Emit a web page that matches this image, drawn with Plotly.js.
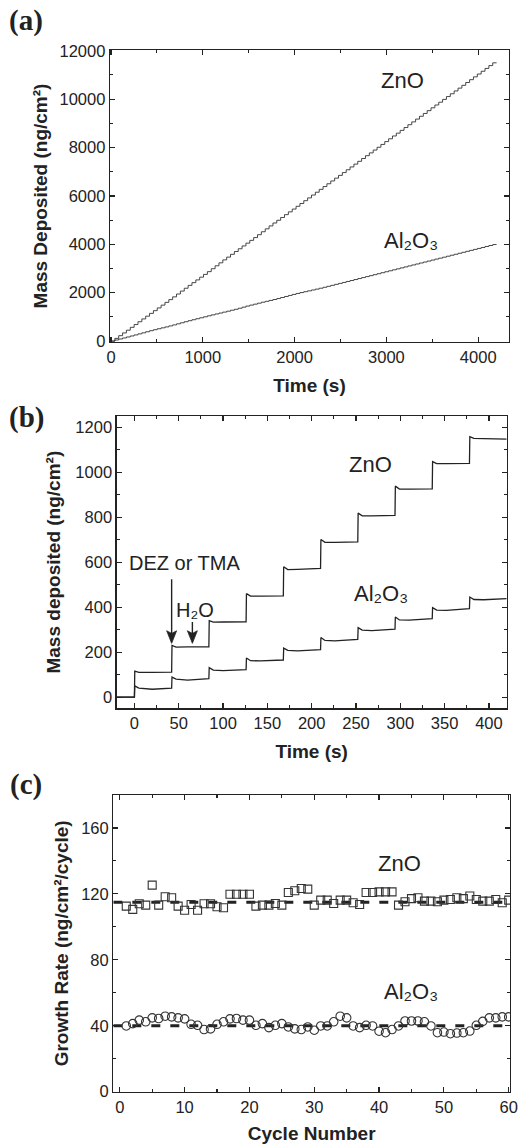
<!DOCTYPE html>
<html>
<head>
<meta charset="utf-8">
<script src="https://cdn.plot.ly/plotly-3.0.1.min.js"></script>
<style>
  html, body { margin: 0; padding: 0; background: #fff; }
  #chart { width: 520px; height: 1144px; }
</style>
</head>
<body>
<div id="chart"></div>
<script>
// (a) long run: time at each cycle boundary (s) and cumulative mass (ng/cm2)
const timeA = [0,42,84,126,168,210,252,294,336,378,420,462,504,546,588,630,672,714,756,798,840,882,924,966,1008,1050,1092,1134,1176,1218,1260,1302,1344,1386,1428,1470,1512,1554,1596,1638,1680,1722,1764,1806,1848,1890,1932,1974,2016,2058,2100,2142,2184,2226,2268,2310,2352,2394,2436,2478,2520,2562,2604,2646,2688,2730,2772,2814,2856,2898,2940,2982,3024,3066,3108,3150,3192,3234,3276,3318,3360,3402,3444,3486,3528,3570,3612,3654,3696,3738,3780,3822,3864,3906,3948,3990,4032,4074,4116,4158,4200];
const massZnOA = [0,112,224,336,450,568,684,800,916,1030,1145,1258,1370,1486,1600,1714,1828,1946,2066,2184,2302,2415,2528,2642,2756,2870,2990,3112,3234,3356,3470,3586,3702,3816,3932,4048,4163,4277,4397,4518,4639,4760,4880,4993,5108,5225,5341,5456,5571,5686,5802,5918,6035,6152,6270,6386,6502,6618,6734,6848,6964,7080,7197,7313,7429,7546,7662,7778,7895,8011,8127,8244,8360,8476,8593,8709,8825,8942,9058,9174,9291,9407,9523,9640,9756,9872,9989,10105,10221,10338,10454,10570,10687,10803,10919,11036,11152,11268,11385,11500,11500];
const massAlA = [0,45,86,128,170,212,255,298,342,386,429,470,510,548,586,627,669,713,757,800,843,883,924,963,1003,1044,1083,1121,1159,1198,1235,1275,1315,1357,1403,1448,1488,1527,1567,1607,1644,1680,1718,1758,1801,1844,1887,1929,1969,2005,2041,2076,2112,2148,2185,2224,2264,2304,2344,2384,2424,2464,2504,2544,2585,2625,2665,2705,2745,2785,2826,2866,2906,2946,2986,3026,3066,3107,3147,3187,3227,3267,3307,3348,3388,3428,3468,3508,3548,3588,3629,3669,3709,3749,3789,3829,3869,3910,3950,3990,3990];

// (b) first ten cycles, QCM trace (s, ng/cm2)
const timeB = [-20,0, 0.4,5,20,42, 42.4,47,60,84, 84.4,89,100,126, 126.4,131,142,168, 168.4,173,184,210, 210.4,215,226,252, 252.4,257,268,294, 294.4,299,310,336, 336.4,341,352,378, 378.4,383,394,420];
const massZnOB = [0,0, 116,110,110,111, 230,222,223,224, 340,333,334,335, 460,449,449,450, 580,567,568,572, 701,688,688,690, 818,806,806,808, 938,925,925,926, 1047,1038,1038,1039, 1158,1150,1149,1147];
const massAlB = [0,0, 50,40,35,40, 89,80,76,82, 131,120,118,122, 174,162,161,165, 218,208,206,211, 265,252,250,257, 309,298,296,302, 356,343,342,349, 398,387,386,393, 445,434,433,438];
// precursor / water pulse markers: pulse time (s), arrow tip and tail (ng/cm2)
const pulseTime = [42, 65.4];
const pulseTip = [239, 239];
const pulseTail = [524, 334];

// (c) growth per cycle (ng/cm2/cycle)
const cycles = [1,2,3,4,5,6,7,8,9,10,11,12,13,14,15,16,17,18,19,20,21,22,23,24,25,26,27,28,29,30,31,32,33,34,35,36,37,38,39,40,41,42,43,44,45,46,47,48,49,50,51,52,53,54,55,56,57,58,59,60];
const rateZnO = [112.6,110.6,114.0,113.2,125.3,113.2,118.3,117.7,112.6,110.1,113.6,110.1,114.0,114.0,112.2,111.6,119.8,119.8,119.8,119.8,112.6,113.2,113.2,114.2,113.2,120.8,121.9,123.3,122.9,113.2,116.2,116.2,114.2,116.2,116.2,114.6,113.6,120.8,120.8,121.2,121.2,121.2,113.2,115.2,117.1,117.7,115.6,115.6,115.2,116.2,116.6,117.7,117.1,118.7,116.6,115.6,115.6,116.6,114.6,116.2];
const rateAl = [39.9,41.3,43.4,42.4,44.8,44.4,45.8,45.4,44.8,44.2,40.9,40.3,37.7,38.1,40.9,42.4,44.2,44.4,43.4,43.4,40.3,41.3,38.9,40.3,41.3,39.3,38.1,37.7,39.3,37.3,39.9,39.9,42.4,45.8,44.8,39.9,38.9,40.3,39.9,36.7,35.8,37.7,39.9,42.9,42.9,42.9,42.4,39.9,35.8,36.2,35.2,35.6,35.8,36.8,40.3,42.7,44.8,44.8,45.4,45.4];
const meanX = [-1, 60];
const meanZnO = [115, 115];
const meanAl = [40, 40];

const ink = '#222';

const traces = [
  {x: timeA, y: massZnOA, xaxis: 'x', yaxis: 'y', mode: 'lines', line: {shape: 'hv', color: '#333', width: 0.9}},
  {x: timeA, y: massAlA, xaxis: 'x', yaxis: 'y', mode: 'lines', line: {shape: 'hv', color: '#333', width: 0.9}},
  {x: timeB, y: massZnOB, xaxis: 'x2', yaxis: 'y2', mode: 'lines', line: {color: ink, width: 1.3}},
  {x: timeB, y: massAlB, xaxis: 'x2', yaxis: 'y2', mode: 'lines', line: {color: ink, width: 1.3}},
  {x: meanX, y: meanZnO, xaxis: 'x3', yaxis: 'y3', mode: 'lines', line: {color: ink, width: 3, dash: '9px,10px'}},
  {x: meanX, y: meanAl, xaxis: 'x3', yaxis: 'y3', mode: 'lines', line: {color: ink, width: 3, dash: '9px,10px'}},
  {x: cycles, y: rateZnO, xaxis: 'x3', yaxis: 'y3', mode: 'markers',
   marker: {symbol: 'square-open', size: 8, color: '#333', line: {width: 1.1}}},
  {x: cycles, y: rateAl, xaxis: 'x3', yaxis: 'y3', mode: 'markers',
   marker: {symbol: 'circle-open', size: 8.5, color: '#333', line: {width: 1.1}}}
];

function axis(extra) {
  return Object.assign({
    showline: true, linecolor: ink, linewidth: 1.3, mirror: 'ticks',
    ticks: 'inside', ticklen: 5, tickwidth: 1.2, tickcolor: ink,
    showgrid: false, zeroline: false, tickformat: 'd',
    tickfont: {size: 16.5, color: ink}
  }, extra);
}
const minor = (d) => ({dtick: d, ticks: 'inside', ticklen: 3, tickwidth: 1.1, tickcolor: ink, showgrid: false});
const titleFont = {size: 19, weight: 'bold', color: ink};
const letterFont = {family: '"Liberation Serif", "Times New Roman", serif', size: 29, weight: 'bold', color: ink};

// vertical pulse arrows: shaft plus a notched filled head
const shapes = [];
pulseTime.forEach((t, i) => {
  shapes.push({type: 'line', xref: 'x2', yref: 'y2', x0: t, x1: t, y0: pulseTail[i], y1: pulseTip[i] + 40,
    line: {color: ink, width: 1.4}});
  shapes.push({type: 'path', xref: 'x2', yref: 'y2',
    path: `M ${t} ${pulseTip[i]} L ${t - 5.6} ${pulseTip[i] + 56} L ${t} ${pulseTip[i] + 44} L ${t + 5.6} ${pulseTip[i] + 56} Z`,
    fillcolor: ink, line: {color: ink, width: 0.8}});
});

const layout = {
  width: 520, height: 1144,
  margin: {l: 0, r: 0, t: 0, b: 0},
  paper_bgcolor: '#fff', plot_bgcolor: '#fff',
  showlegend: false,
  font: {family: '"Liberation Sans", Arial, sans-serif', color: ink, size: 16.5},
  xaxis: axis({domain: [0.2115, 0.9788], anchor: 'y', range: [-11, 4335], tick0: 0, dtick: 1000, minor: minor(500),
    title: {text: 'Time (s)', font: titleFont, standoff: 13}}),
  yaxis: axis({domain: [0.7010, 0.9563], anchor: 'x', range: [-40, 12030], tick0: 0, dtick: 2000, minor: minor(1000),
    title: {text: 'Mass Deposited (ng/cm²)', font: titleFont, standoff: 6}}),
  xaxis2: axis({domain: [0.2244, 0.9744], anchor: 'y2', range: [-20, 420], tick0: 0, dtick: 50, minor: minor(25),
    title: {text: 'Time (s)', font: titleFont, standoff: 13}}),
  yaxis2: axis({domain: [0.3808, 0.6364], anchor: 'x2', range: [-50, 1250], tick0: 0, dtick: 200, minor: minor(100),
    title: {text: 'Mass deposited (ng/cm²)', font: titleFont, standoff: 9}}),
  xaxis3: axis({domain: [0.2179, 0.9808], anchor: 'y3', range: [-1, 60.2], tick0: 0, dtick: 10, minor: minor(5),
    title: {text: 'Cycle Number', font: titleFont, standoff: 14}}),
  yaxis3: axis({domain: [0.0457, 0.3051], anchor: 'x3', range: [0, 180], tick0: 0, dtick: 40, minor: minor(20),
    title: {text: 'Growth Rate (ng/cm²/cycle)', font: titleFont, standoff: 7}}),
  shapes: shapes,
  annotations: [
    // panel letters
    {text: '(a)', xref: 'paper', yref: 'paper', x: 26/520, y: 1 - 20/1144, xanchor: 'center', yanchor: 'middle', showarrow: false, font: letterFont},
    {text: '(b)', xref: 'paper', yref: 'paper', x: 26/520, y: 1 - 417/1144, xanchor: 'center', yanchor: 'middle', showarrow: false, font: letterFont},
    {text: '(c)', xref: 'paper', yref: 'paper', x: 26/520, y: 1 - 784/1144, xanchor: 'center', yanchor: 'middle', showarrow: false, font: letterFont},
    // series labels
    {text: 'ZnO', xref: 'x', yref: 'y', x: 3170, y: 10786, showarrow: false, font: {size: 22}},
    {text: 'Al₂O₃', xref: 'x', yref: 'y', x: 3268, y: 4166, showarrow: false, font: {size: 22}},
    {text: 'ZnO', xref: 'x2', yref: 'y2', x: 266, y: 1036, showarrow: false, font: {size: 22}},
    {text: 'Al₂O₃', xref: 'x2', yref: 'y2', x: 278, y: 462, showarrow: false, font: {size: 22}},
    {text: 'DEZ or TMA', xref: 'x2', yref: 'y2', x: 56, y: 595, showarrow: false, font: {size: 20}},
    {text: 'H₂O', xref: 'x2', yref: 'y2', x: 68.5, y: 386, showarrow: false, font: {size: 20}},
    {text: 'ZnO', xref: 'x3', yref: 'y3', x: 43.2, y: 138.6, showarrow: false, font: {size: 22}},
    {text: 'Al₂O₃', xref: 'x3', yref: 'y3', x: 44.9, y: 61, showarrow: false, font: {size: 22}}
  ]
};

Plotly.newPlot('chart', traces, layout, {staticPlot: true, displayModeBar: false});
</script>
</body>
</html>
